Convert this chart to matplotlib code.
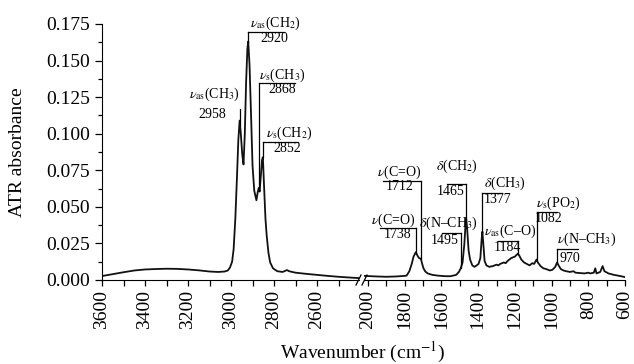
import numpy as np
import matplotlib
matplotlib.use('Agg')
from matplotlib import pyplot as plt


## spectrum (wavenumber in cm-1, ATR absorbance)
##------------------------------------------------------------------------

wn_high = [3600, 3550, 3500, 3450, 3400, 3350, 3300, 3250, 3200, 3150,
           3100, 3060, 3030, 3015, 3005, 2995, 2988, 2980, 2972, 2966,
           2960, 2955, 2948, 2942, 2936, 2930, 2924, 2920, 2914, 2907,
           2900, 2892, 2882, 2876, 2871, 2867, 2862, 2856, 2852, 2847,
           2840, 2834, 2826, 2818, 2805, 2785, 2760, 2740, 2730, 2700,
           2650, 2600, 2550, 2500, 2450, 2405]
ab_high = [0.0027, 0.0040, 0.0053, 0.0065, 0.0072, 0.0075, 0.0077, 0.0076, 0.0072, 0.0066,
           0.0058, 0.0055, 0.0058, 0.0065, 0.0085, 0.0125, 0.0210, 0.0420, 0.0720, 0.0960,
           0.1090, 0.1010, 0.0860, 0.0790, 0.1000, 0.1350, 0.1580, 0.1630, 0.1470, 0.1130,
           0.0780, 0.0610, 0.0545, 0.0600, 0.0630, 0.0605, 0.0700, 0.0820, 0.0840, 0.0660,
           0.0420, 0.0300, 0.0185, 0.0120, 0.0080, 0.0060, 0.0055, 0.0068, 0.0060, 0.0050,
           0.0042, 0.0035, 0.0028, 0.0022, 0.0017, 0.0013]

wn_low = [2020, 1950, 1900, 1850, 1800, 1790, 1775, 1762, 1752, 1740,
          1730, 1722, 1712, 1705, 1698, 1688, 1675, 1650, 1620, 1580,
          1550, 1520, 1505, 1495, 1485, 1475, 1468, 1465, 1460, 1452,
          1444, 1432, 1420, 1408, 1398, 1388, 1381, 1377, 1372, 1365,
          1355, 1340, 1320, 1300, 1290, 1280, 1260, 1250, 1240, 1220,
          1200, 1184, 1175, 1165, 1150, 1135, 1120, 1105, 1095, 1082,
          1075, 1060, 1045, 1030, 1010, 995, 980, 970, 962, 950,
          935, 920, 900, 880, 870, 850, 820, 800, 790, 770,
          762, 755, 735, 722, 712, 690, 660, 630, 600]
ab_low = [0.0028, 0.0024, 0.0022, 0.0024, 0.0028, 0.0030, 0.0060, 0.0110, 0.0160, 0.0190,
          0.0165, 0.0150, 0.0145, 0.0110, 0.0080, 0.0058, 0.0045, 0.0035, 0.0030, 0.0026,
          0.0026, 0.0035, 0.0055, 0.0080, 0.0120, 0.0250, 0.0400, 0.0420, 0.0350, 0.0200,
          0.0140, 0.0100, 0.0090, 0.0100, 0.0110, 0.0150, 0.0280, 0.0330, 0.0250, 0.0130,
          0.0100, 0.0090, 0.0095, 0.0105, 0.0100, 0.0110, 0.0120, 0.0115, 0.0130, 0.0150,
          0.0160, 0.0180, 0.0165, 0.0140, 0.0120, 0.0110, 0.0100, 0.0115, 0.0110, 0.0140,
          0.0120, 0.0095, 0.0080, 0.0075, 0.0065, 0.0070, 0.0090, 0.0120, 0.0100, 0.0075,
          0.0065, 0.0060, 0.0055, 0.0060, 0.0050, 0.0048, 0.0045, 0.0050, 0.0045, 0.0050,
          0.0080, 0.0045, 0.0055, 0.0095, 0.0060, 0.0045, 0.0035, 0.0028, 0.0020]

## band labels: peak, name, bar height, far end of bar, name pos, number pos
peaks_high = [2958, 2920, 2868, 2852]
names_high = [r'$\nu_{\rm as}$(CH$_3$)', r'$\nu_{\rm as}$(CH$_2$)',
              r'$\nu_{\rm s}$(CH$_3$)', r'$\nu_{\rm s}$(CH$_2$)']
bar_y_high = [0.117, 0.1695, 0.1347, 0.0943]
bar_end_high = [None, 2754, 2702, 2688]
name_xy_high = [(3079, 0.1271), (2795, 0.1757), (2763, 0.1401), (2730, 0.1005)]
num_xy_high = [(3088, 0.1128), (2800, 0.1654), (2763, 0.1300), (2740, 0.0896)]

peaks_low = [1738, 1712, 1495, 1465, 1377, 1184, 1082, 970]
names_low = ['$\\nu$(C=O)', '$\\nu$(C=O)', '$\\delta$(N–CH$_3$)', '$\\delta$(CH$_2$)',
             '$\\delta$(CH$_3$)', r'$\nu_{\rm as}$(C–O)', r'$\nu_{\rm s}$(PO$_2$)',
             '$\\nu$(N–CH$_3$)']
bar_y_low = [0.0355, 0.0677, 0.0321, 0.0656, 0.0595, 0.0267, 0.0465, 0.0212]
bar_end_low = [1935, 1918, 1597, 1570, 1270, 1292, 971, 856]
name_xy_low = [(1864, 0.0410), (1831, 0.0738), (1564, 0.0390), (1515, 0.0779),
               (1254, 0.0663), (1227, 0.0335), (965, 0.0526), (807, 0.0280)]
num_xy_low = [(1839, 0.0308), (1826, 0.0636), (1581, 0.0267), (1548, 0.0608),
              (1297, 0.0547), (1243, 0.0219), (1014, 0.0417), (900, 0.0150)]


def label_bands(ax, wn, ab, peaks, names, bar_y, bar_end, name_xy, num_xy):
  for i, p in enumerate(peaks):
    top = np.interp(p, wn[::-1], ab[::-1])
    ax.plot([p, p], [top, bar_y[i]], color='k', lw=0.9, clip_on=False)
    if bar_end[i] is not None:
      ax.plot([p, bar_end[i]], [bar_y[i], bar_y[i]], color='k', lw=0.9, clip_on=False)
    ax.text(name_xy[i][0], name_xy[i][1], names[i], ha='center', va='center',
            fontsize=10, clip_on=False)
    ax.text(num_xy[i][0], num_xy[i][1], str(p), ha='center', va='center',
            fontsize=10, clip_on=False)


plt.rcParams['font.family'] = ['Liberation Serif', 'DejaVu Serif']
plt.rcParams['mathtext.fontset'] = 'stix'

W, H = 634, 364
fig = plt.figure(figsize=(W/100, H/100), dpi=100)
axL = fig.add_axes([102/W, 84/H, 257/W, 256/H])
axR = fig.add_axes([364/W, 84/H, 261/W, 256/H])

axL.plot(wn_high, ab_high, color='#111111', lw=1.3)
axR.plot(wn_low, ab_low, color='#111111', lw=1.3)

axL.set_xlim(3600, 2405)
axR.set_xlim(2022, 600)
for ax in (axL, axR):
  ax.set_ylim(0, 0.175)
  ax.spines['top'].set_visible(False)
  ax.spines['right'].set_visible(False)
  ax.tick_params(which='both', direction='out', labelsize=14, width=0.9)
  ax.tick_params(axis='x', which='both', length=4, rotation=90, pad=3)
  ax.patch.set_visible(False)

axL.set_xticks(np.arange(3600, 2500, -200))
axL.set_xticks(np.arange(3600, 2400, -100), minor=True)
axR.set_xticks(np.arange(2000, 599, -200))
axR.set_xticks(np.arange(2000, 599, -100), minor=True)

axL.set_yticks(np.arange(0, 0.176, 0.025))
axL.set_yticks(np.arange(0, 0.176, 0.0125), minor=True)
axL.set_yticklabels(['%.3f' % v for v in np.arange(0, 0.176, 0.025)])
axL.tick_params(axis='y', which='major', length=5)
axL.tick_params(axis='y', which='minor', length=3)

axR.spines['left'].set_visible(False)
axR.tick_params(axis='y', which='both', left=False, labelleft=False)

label_bands(axL, wn_high, ab_high, peaks_high, names_high, bar_y_high,
            bar_end_high, name_xy_high, num_xy_high)
label_bands(axR, wn_low, ab_low, peaks_low, names_low, bar_y_low,
            bar_end_low, name_xy_low, num_xy_low)

## axis break marks
for x0 in (356, 362):
  fig.add_artist(plt.Line2D([x0/W, (x0+5)/W], [(H-285)/H, (H-275)/H],
                            color='k', lw=0.9))

fig.text(363/W, 12/H, 'Wavenumber (cm$^{-1}$)', ha='center', va='center', fontsize=14)
fig.text(18/W, (H-152)/H, 'ATR absorbance', ha='center', va='center',
         rotation=90, fontsize=14)

fig.savefig('out.png', dpi=100)
